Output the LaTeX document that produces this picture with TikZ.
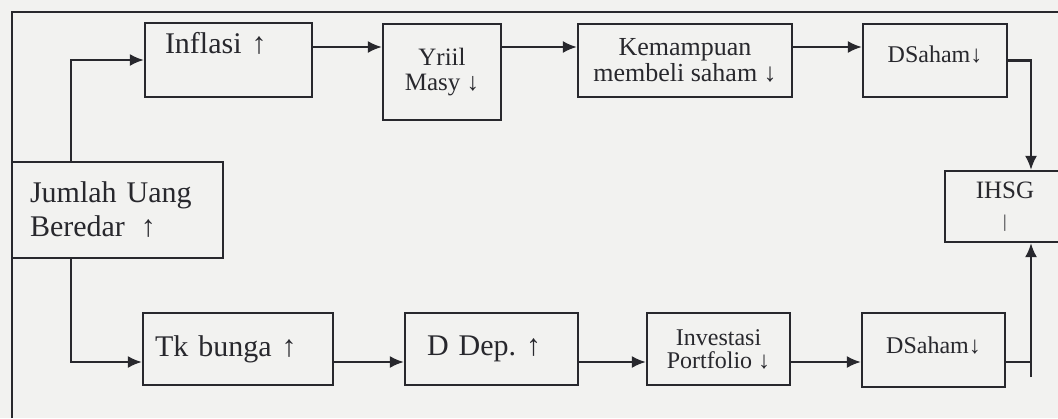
\documentclass[tikz,border=0pt]{standalone}
\usepackage{fontspec}
\setmainfont{Liberation Serif}
\usetikzlibrary{arrows.meta}
\definecolor{ink}{RGB}{40,40,45}
\definecolor{paper}{RGB}{242,242,240}
\newcommand{\bigtxt}{\fontsize{15}{17}\selectfont}
\newcommand{\midtxt}{\fontsize{12.5}{12.5}\selectfont}

\begin{document}
\frenchspacing
\begin{tikzpicture}[x=0.5pt,y=-0.5pt,
    box/.style={draw=ink, line width=1.1pt, inner sep=0pt, align=center, text=ink},
    flow/.style={draw=ink, line width=1.1pt, -{Latex[length=7pt,width=6pt]}}]
  \fill[paper] (0,0) rectangle (1058,418);
  \useasboundingbox (0,0) rectangle (1058,418);
  % frame
  \draw[ink, line width=1.1pt] (12,418) -- (12,12) -- (1058,12);
  \coordinate (toprow) at (0,47);
  \coordinate (botrow) at (0,362);
  \coordinate (rcol) at (1031,0);
  \coordinate (tail) at (1031,377);
  % upper row
  \node[box, font=\bigtxt, align=left, inner xsep=9pt, text width=87.5pt, minimum height=48pt]
    (jum) at (117.5,210) {Jumlah Uang\\Beredar\hspace{8pt}↑};
  \node[box, font=\bigtxt, align=left, inner xsep=10pt, text width=63.5pt, text height=15pt, text depth=22pt]
    (inf) at (228.5,60) {Inflasi ↑};
  \node[box, font=\midtxt, minimum width=59pt, minimum height=48pt]
    (yr) at (442,72) {Yriil\\Masy ↓};
  \node[box, font=\fontsize{13}{13}\selectfont, minimum width=107pt, minimum height=36.5pt]
    (kem) at (685,60.5) {Kemampuan\\membeli saham ↓};
  \node[box, font=\fontsize{12}{14}\selectfont, minimum width=72pt, text height=19pt, text depth=17.5pt]
    (ds1) at (935,60.5) {DSaham↓};
  \node[box, font=\midtxt, minimum width=60pt, minimum height=35.5pt]
    (ihsg) at (1005,206.5) {IHSG\\[2pt]{\small |}};
  % lower row
  \node[box, font=\bigtxt, align=left, inner xsep=6pt, text width=83pt, minimum height=36pt]
    (tk) at (238,349) {Tk bunga ↑};
  \node[box, font=\bigtxt, align=left, inner xsep=11pt, text width=64.5pt, minimum height=36pt]
    (dd) at (491.5,349) {D Dep. ↑};
  \node[box, font=\fontsize{12}{11.5}\selectfont, minimum width=71.5pt, minimum height=36pt]
    (inv) at (718.5,349) {Investasi\\Portfolio ↓};
  \node[box, font=\fontsize{12}{14}\selectfont, minimum width=71.5pt, text height=20pt, text depth=17pt]
    (ds2) at (933.5,350) {DSaham↓};
  % connectors
  \draw[flow] ([xshift=30pt]jum.north west) |- (inf.west);
  \draw[flow] ([xshift=30pt]jum.south west) |- (tk.west |- botrow);
  \draw[flow] (inf.east |- toprow) -- (yr.west |- toprow);
  \draw[flow] (yr.east |- toprow) -- (kem.west |- toprow);
  \draw[flow] (kem.east |- toprow) -- (ds1.west |- toprow);
  \draw[flow] (ds1.east) -| (ihsg.north -| rcol);
  \draw[flow] (tk.east |- botrow) -- (dd.west |- botrow);
  \draw[flow] (dd.east |- botrow) -- (inv.west |- botrow);
  \draw[flow] (inv.east |- botrow) -- (ds2.west |- botrow);
  \draw[ink, line width=1.1pt] (ds2.east |- botrow) -- (botrow -| rcol);
  \draw[flow] (tail) -- (ihsg.south -| rcol);
\end{tikzpicture}
\end{document}
